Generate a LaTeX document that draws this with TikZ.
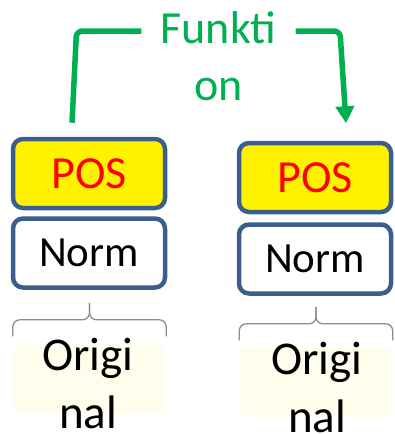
\documentclass[tikz,border=0pt]{standalone}
\usepackage{fontspec}
\setmainfont{Carlito}
\usetikzlibrary{arrows.meta,calc}
\definecolor{boxblue}{HTML}{3A5F8F}
\definecolor{arrowgreen}{HTML}{00B050}
\definecolor{cream}{HTML}{FFFDEC}
\definecolor{bracegray}{HTML}{8C8C8C}
\begin{document}
\begin{tikzpicture}[x=1pt,y=-1pt,
  layer/.style={draw=boxblue, line width=4.5pt, rounded corners=10pt,
    minimum width=152pt, minimum height=69pt, inner sep=0pt},
  posbox/.style={layer, fill=yellow, text=red, font=\fontsize{46}{56}\selectfont},
  normbox/.style={layer, fill=white, text=black, font=\fontsize{43}{52}\selectfont},
  origbg/.style={fill=cream, rounded corners=8pt, minimum width=153pt,
    minimum height=69pt, inner sep=0pt},
  origtext/.style={font=\fontsize{47}{58}\selectfont, align=center, inner sep=0pt},
  bracket/.style={draw=bracegray, line width=1.3pt, rounded corners=7pt},
  flow/.style={draw=arrowgreen, line width=5.5pt, rounded corners=6pt},
  funlabel/.style={text=arrowgreen, font=\fontsize{46}{57}\selectfont,
    align=center, inner sep=0pt}
]
\useasboundingbox (0,0) rectangle (394,434);

% left stack
\node[posbox]  (posL)  at (89,173.5) {POS};
\node[normbox] (normL) at (89,253)   {Norm};
\node[origbg]  (bgL)   at (89.5,378.5) {};
\node[origtext, anchor=base] (origL) at (88,428) {Origi\\nal};

% right stack
\node[posbox]  (posR)  at (315,177.5) {POS};
\node[normbox] (normR) at (315,259)   {Norm};
\node[origbg]  (bgR)   at (316,382.5) {};
\node[origtext, anchor=base] (origR) at (317,432) {Origi\\nal};

% braces above the originals
\foreach \b in {bgL,bgR}{
  \draw[bracket] ($(\b.north west)+(0,-7.5)$) |- ($(\b.north)+(0,-24)$) -- ++(0,-17);
  \draw[bracket] ($(\b.north east)+(0,-7.5)$) |- ($(\b.north)+(0,-24)$) -- ++(0,-17);
}

% function label and arrow
\node[funlabel, anchor=base] (fun) at (218.5,100) {Funkti\\on};
\coordinate (bendL) at (76.5,31);
\coordinate (bendR) at (340,31);
\draw[flow, shorten >=19pt] ($(posL.north)+(-17,-14)$) -- (bendL) -- (bendL -| fun.west);
\draw[flow, shorten <=19pt, -{Triangle[width=18pt,length=17pt]}]
  (bendR -| fun.east) -- (bendR) -- ($(posR.north)+(31,-17.5)$);
\end{tikzpicture}
\end{document}
